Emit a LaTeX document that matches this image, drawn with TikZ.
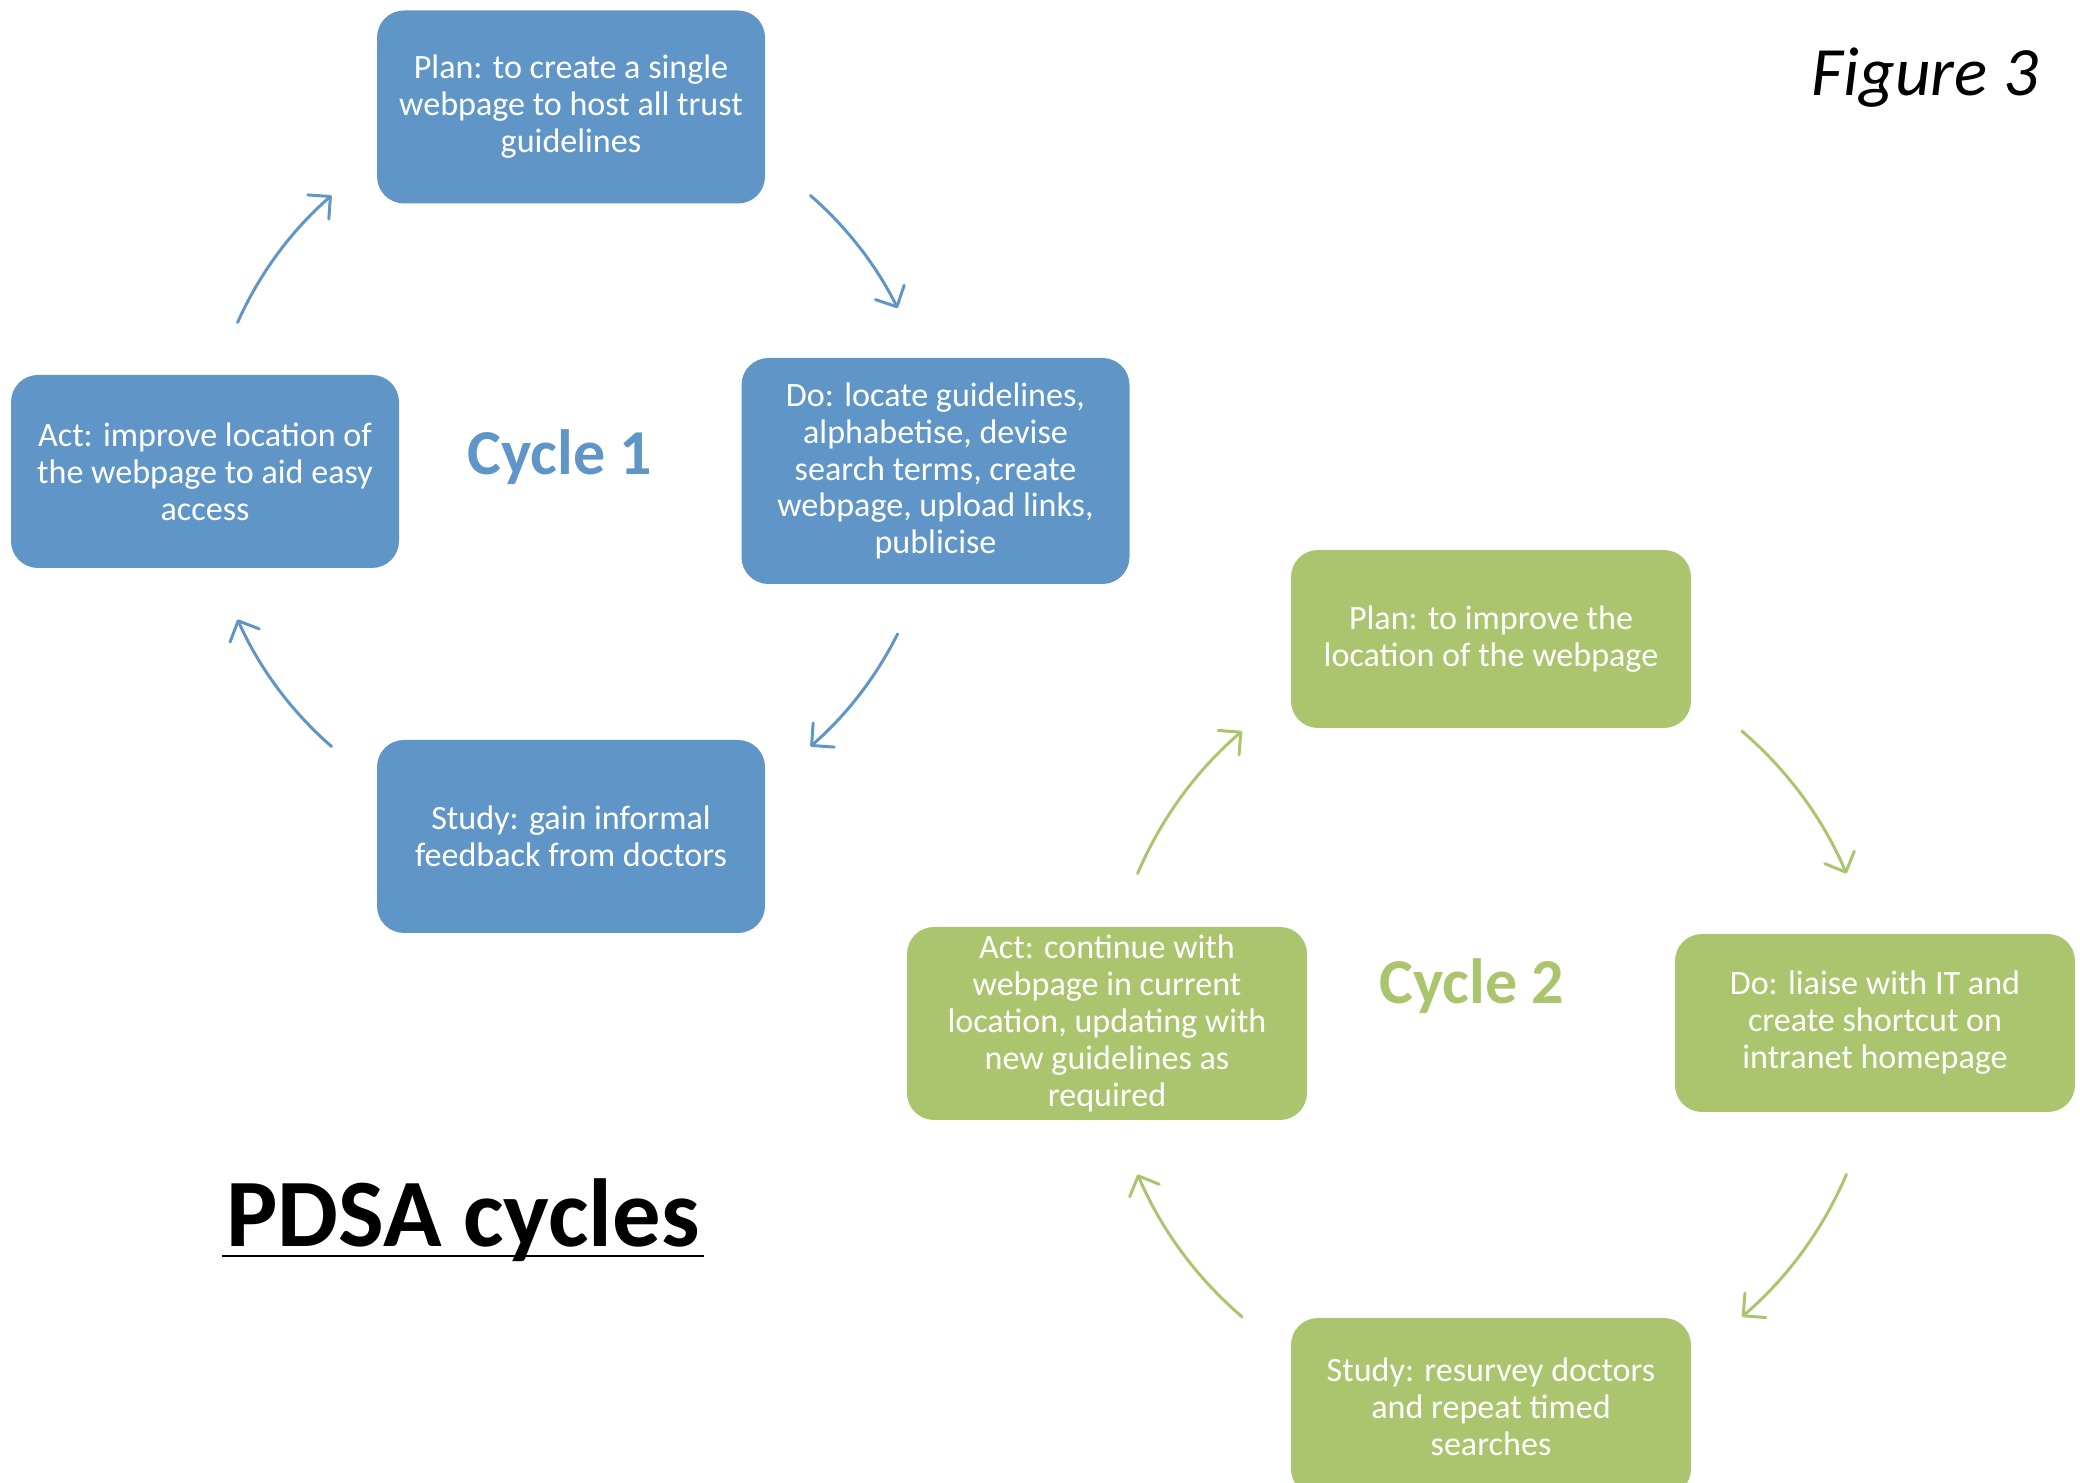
\documentclass[tikz,border=0pt]{standalone}
\usepackage{fontspec}
\setmainfont{Carlito}
\usetikzlibrary{arrows.meta}
\definecolor{cycblue}{RGB}{96,150,199}
\definecolor{cycgreen}{RGB}{171,197,110}

\begin{document}
\begin{tikzpicture}[
        stepbox/.style={rounded corners=0.27cm, text=white, align=center,
            font=\fontsize{9.7}{10.5}\selectfont, inner sep=0pt},
        bluebox/.style={stepbox, fill=cycblue, minimum width=3.88cm, minimum height=1.93cm},
        greenbox/.style={stepbox, fill=cycgreen, minimum width=4cm, minimum height=1.78cm},
        turn/.style={line width=0.85pt, line cap=round,
            -{Straight Barb[length=1.6mm,width=3.2mm,round]}},
    ]
    \useasboundingbox (0,0) rectangle (20.8,14.83);

    % cycle 1
    \coordinate (c1) at (5.71,10.12);
    \node[bluebox] (plan1) at (5.71,13.76) {Plan: to create a single\\webpage to host all trust\\guidelines};
    \node[bluebox, minimum height=2.26cm] (do1) at (9.355,10.12) {Do: locate guidelines,\\alphabetise, devise\\search terms, create\\webpage, upload links,\\publicise};
    \node[bluebox] (study1) at (5.71,6.465) {Study: gain informal\\feedback from doctors};
    \node[bluebox] (act1) at (2.05,10.115) {Act: improve location of\\the webpage to aid easy\\access};
    \node[anchor=base, text=cycblue, font=\fontsize{18.2}{22}\selectfont\bfseries] (lab1) at (5.60,10.08) {Cycle 1};

    \draw[turn, cycblue] ([shift={(49:3.65)}]c1) arc[start angle=49, end angle=26.5, radius=3.65];
    \draw[turn, cycblue] ([shift={(-26.5:3.65)}]c1) arc[start angle=-26.5, end angle=-49, radius=3.65];
    \draw[turn, cycblue] ([shift={(-131:3.65)}]c1) arc[start angle=-131, end angle=-156, radius=3.65];
    \draw[turn, cycblue] ([shift={(156:3.65)}]c1) arc[start angle=156, end angle=131, radius=3.65];

    % cycle 2
    \coordinate (c2) at (14.92,4.59);
    \node[greenbox] (plan2) at (14.91,8.44) {Plan: to improve the\\location of the webpage};
    \node[greenbox] (do2) at (18.75,4.60) {Do: liaise with IT and\\create shortcut on\\intranet homepage};
    \node[greenbox] (study2) at (14.91,0.76) {Study: resurvey doctors\\and repeat timed\\searches};
    \node[greenbox, minimum height=1.93cm] (act2) at (11.07,4.595) {Act: continue with\\webpage in current\\location, updating with\\new guidelines as\\required};
    \node[anchor=base, text=cycgreen, font=\fontsize{18.2}{22}\selectfont\bfseries] (lab2) at (14.72,4.79) {Cycle 2};

    \draw[turn, cycgreen] ([shift={(49.5:3.85)}]c2) arc[start angle=49.5, end angle=23, radius=3.85];
    \draw[turn, cycgreen] ([shift={(-23:3.85)}]c2) arc[start angle=-23, end angle=-49.5, radius=3.85];
    \draw[turn, cycgreen] ([shift={(-130.5:3.85)}]c2) arc[start angle=-130.5, end angle=-157, radius=3.85];
    \draw[turn, cycgreen] ([shift={(157:3.85)}]c2) arc[start angle=157, end angle=130.5, radius=3.85];

    % titles
    \node[anchor=base, inner xsep=1pt, font=\fontsize{27.5}{33}\selectfont\bfseries] (title) at (4.63,2.36) {PDSA cycles};
    \draw[line width=0.6pt] ([yshift=-0.9mm]title.base west) -- ([yshift=-0.9mm]title.base east);
    \node[anchor=base, font=\fontsize{19.7}{24}\selectfont\itshape] (fig) at (19.25,13.875) {Figure 3};
\end{tikzpicture}
\end{document}
